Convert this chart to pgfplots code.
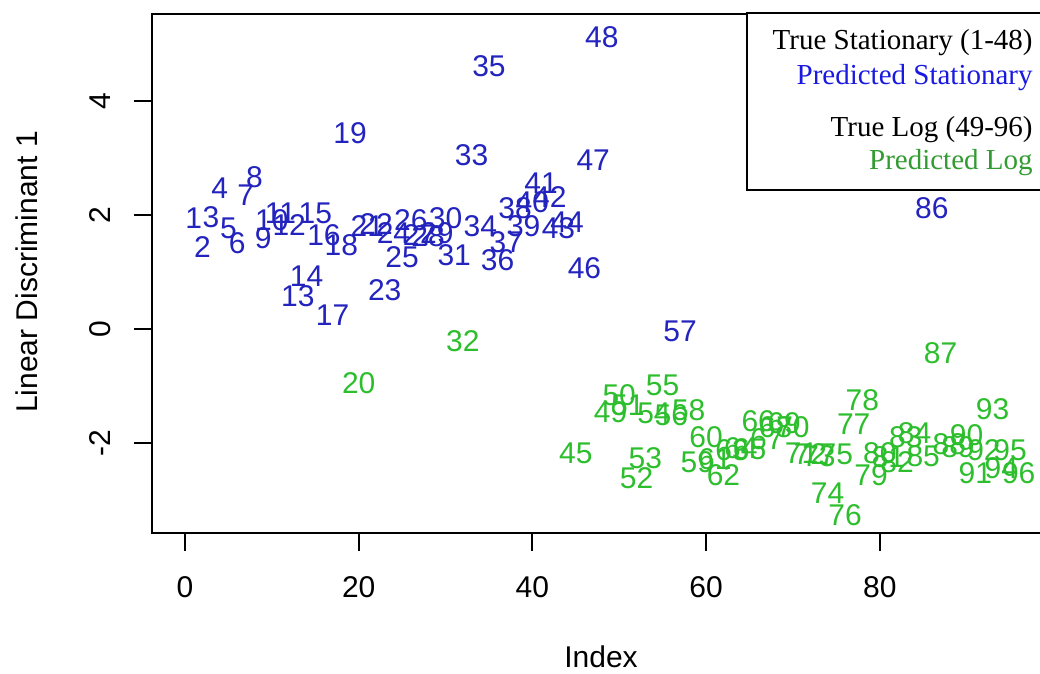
\documentclass[border=0pt]{standalone}
\usepackage{fontspec}
\setmainfont{Liberation Sans}
\newfontfamily\timesfont{Liberation Serif}
\usepackage{pgfplots}
\usepackage{pgfplotstable}
\pgfplotsset{compat=1.18}
\definecolor{dblue}{RGB}{35,35,190}
\definecolor{dgreen}{RGB}{45,190,45}
\definecolor{lblue}{RGB}{25,25,225}
\definecolor{lgreen}{RGB}{50,155,50}

\pgfplotstableread{
i v
1 1.95
2 1.44
3 1.97
4 2.47
5 1.77
6 1.51
7 2.35
8 2.67
9 1.60
10 1.91
11 2.03
12 1.82
13 0.57
14 0.92
15 2.03
16 1.65
17 0.25
18 1.47
19 3.44
21 1.80
22 1.85
23 0.69
24 1.68
25 1.26
26 1.91
27 1.65
28 1.62
29 1.68
30 1.95
31 1.30
33 3.05
34 1.80
35 4.60
36 1.20
37 1.53
38 2.12
39 1.80
40 2.23
41 2.55
42 2.31
43 1.77
44 1.88
46 1.07
47 2.96
48 5.12
57 -0.04
86 2.12
}\stat

\pgfplotstableread{
i v
20 -0.95
32 -0.21
45 -2.18
49 -1.45
50 -1.15
51 -1.33
52 -2.61
53 -2.26
54 -1.47
55 -0.98
56 -1.51
58 -1.42
59 -2.33
60 -1.89
61 -2.28
62 -2.56
63 -2.12
64 -2.08
65 -2.10
66 -1.62
67 -1.92
68 -1.72
69 -1.65
70 -1.72
71 -2.18
72 -2.18
73 -2.22
74 -2.87
75 -2.20
76 -3.25
77 -1.67
78 -1.24
79 -2.56
80 -2.18
81 -2.24
82 -2.33
83 -1.89
84 -1.82
85 -2.23
87 -0.42
88 -2.02
89 -2.06
90 -1.85
91 -2.53
92 -2.12
93 -1.41
94 -2.43
95 -2.12
96 -2.52
}\logd

\begin{document}
\begin{tikzpicture}
\useasboundingbox (0,0) rectangle (520pt,337pt);
\begin{axis}[
  at={(76pt,70.5pt)}, anchor=south west,
  scale only axis, width=449pt, height=259.5pt,
  xmin=-3.8, xmax=99.6, ymin=-3.57, ymax=5.52,
  axis line style={line width=1pt},
  xtick={0,20,40,60,80}, ytick={-2,0,2,4},
  tick align=outside, xtick pos=bottom, ytick pos=left,
  major tick length=9pt,
  every tick/.style={line width=1pt, black},
  /pgf/number format/assume math mode=true,
  tick label style={font=\fontsize{15}{18}\selectfont},
  xticklabel style={yshift=-9pt},
  yticklabel style={xshift=-8pt, rotate=90, anchor=south},
  clip=false,
  every node near coord/.append style={anchor=center, inner sep=0pt, font=\fontsize{15}{18}\selectfont},
  nodes near coords align={center},
]
\addplot[draw=none, mark=none, nodes near coords, point meta=explicit symbolic,
  every node near coord/.append style={text=dblue}] table[x=i, y=v, meta=i] {\stat};
\addplot[draw=none, mark=none, nodes near coords, point meta=explicit symbolic,
  every node near coord/.append style={text=dgreen}] table[x=i, y=v, meta=i] {\logd};
\end{axis}
\node[rotate=90, font=\fontsize{15}{18}\selectfont] at (13.5pt,201pt) {Linear Discriminant 1};
\node[font=\fontsize{15}{18}\selectfont] at (300.5pt,8.5pt) {Index};
\draw[line width=1pt, fill=white] (373.7pt,242pt) rectangle (530pt,330.3pt);
\begin{scope}[every node/.style={anchor=base east, inner sep=0pt, font=\timesfont\fontsize{14.5}{17}\selectfont}]
\node at (516.5pt,312pt) {True Stationary (1-48)};
\node[text=lblue] at (516.5pt,294.5pt) {Predicted Stationary};
\node at (516.5pt,268.7pt) {True Log (49-96)};
\node[text=lgreen] at (516.5pt,252pt) {Predicted Log};
\end{scope}
\end{tikzpicture}
\end{document}
